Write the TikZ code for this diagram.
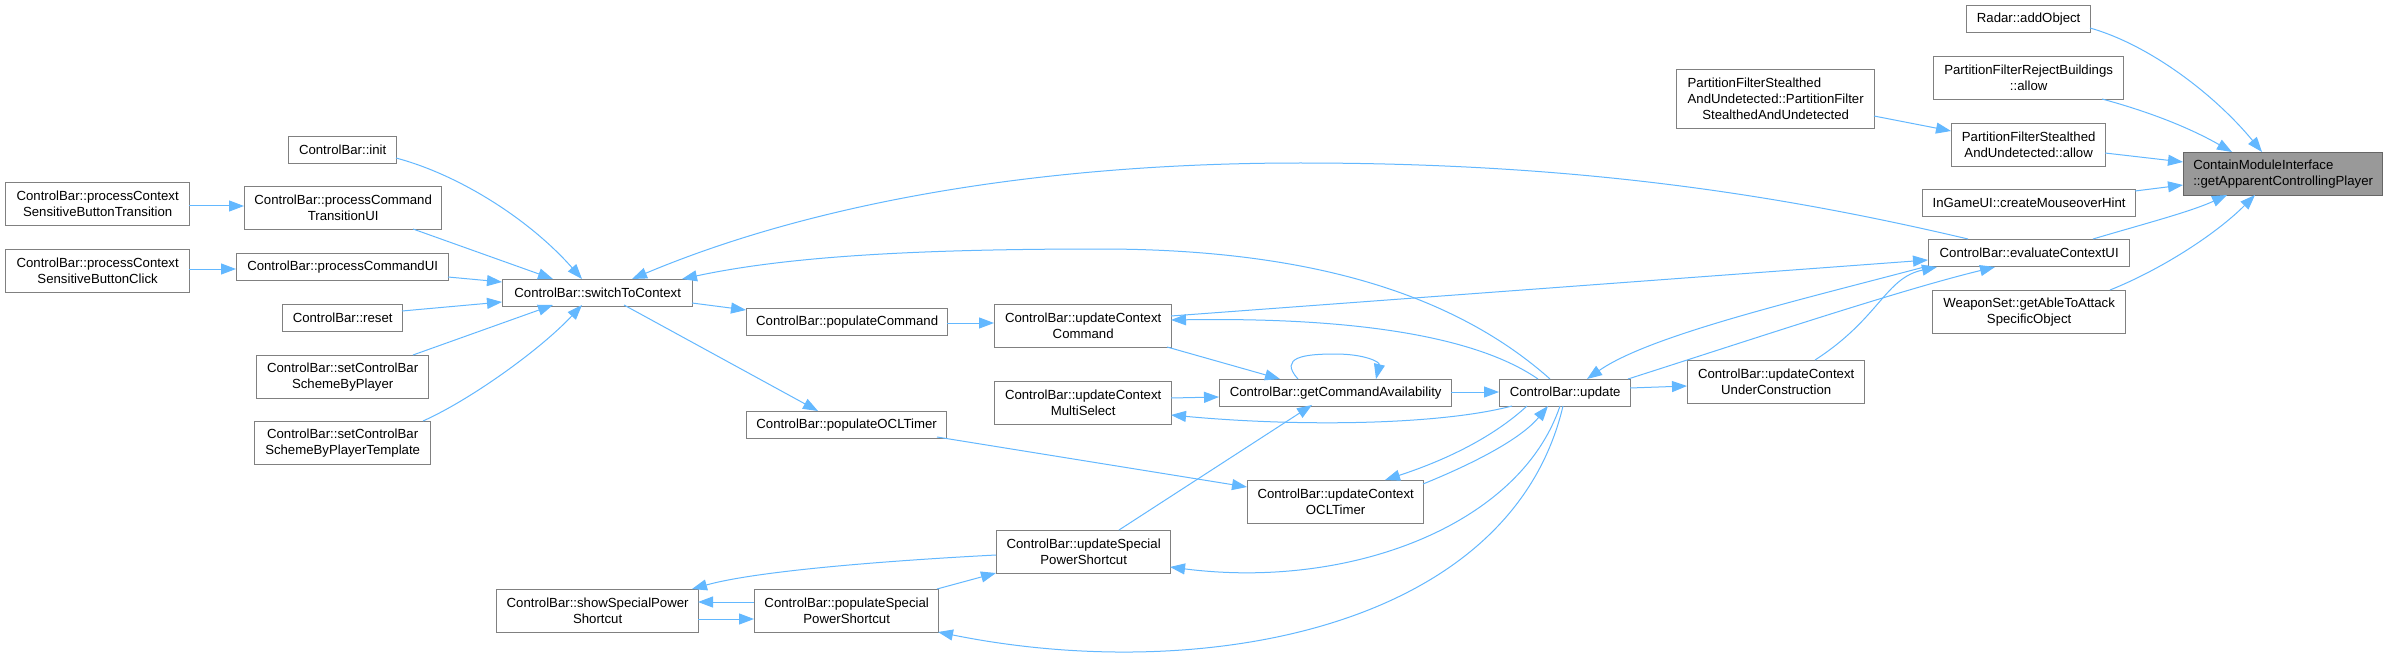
\documentclass[tikz,border=0pt]{standalone}
\usepackage{fontspec}
\setmainfont{Liberation Sans}
\usetikzlibrary{arrows.meta,calc}
\definecolor{edgecol}{RGB}{99,184,255}
\definecolor{nodeborder}{RGB}{128,128,128}
\definecolor{rootfill}{RGB}{153,153,153}
\definecolor{rootborder}{RGB}{102,102,102}
\tikzset{
  box/.style={draw=nodeborder, line width=1.3pt, fill=white, inner sep=0pt, align=center,
    anchor=north west, font=\fontsize{13.2}{16}\selectfont, text=black},
  rootbox/.style={box, fill=rootfill, draw=rootborder},
  edge/.style={draw=edgecol, line width=1pt, -{Triangle[length=15pt,width=11pt]}, fill=none},
}
\begin{document}
\begin{tikzpicture}[x=1pt,y=-1pt]
\fill[white] (0,0) rectangle (2387,655);
\useasboundingbox (0,0) rectangle (2387,655);

% nodes
\node[rootbox, minimum width=199pt, minimum height=43pt] (cmi) at (2183,152) {\makebox[0pt][l]{ContainModuleInterface}\phantom{::getApparentControllingPlayer}\\::getApparentControllingPlayer};
\node[box, minimum width=124pt, minimum height=27pt] (radar) at (1966,5) {Radar::addObject};
\node[box, minimum width=190pt, minimum height=43pt] (pfrb) at (1933,56) {PartitionFilterRejectBuildings\\::allow};
\node[box, minimum width=198pt, minimum height=59pt] (pfsauc) at (1676,69) {\makebox[0pt][l]{PartitionFilterStealthed}\phantom{AndUndetected::PartitionFilter}\\AndUndetected::PartitionFilter\\StealthedAndUndetected};
\node[box, minimum width=154pt, minimum height=43pt] (pfsaua) at (1951,123) {PartitionFilterStealthed\\AndUndetected::allow};
\node[box, minimum width=213pt, minimum height=27pt] (igui) at (1922,189) {InGameUI::createMouseoverHint};
\node[box, minimum width=201pt, minimum height=27pt] (ecui) at (1928,239) {ControlBar::evaluateContextUI};
\node[box, minimum width=193pt, minimum height=43pt] (wset) at (1932,290) {WeaponSet::getAbleToAttack\\SpecificObject};
\node[box, minimum width=177pt, minimum height=43pt] (ucuc) at (1687,360) {ControlBar::updateContext\\UnderConstruction};
\node[box, minimum width=131pt, minimum height=27pt] (upd) at (1499,379) {ControlBar::update};
\node[box, minimum width=232pt, minimum height=27pt] (gca) at (1219,379) {ControlBar::getCommandAvailability};
\node[box, minimum width=177pt, minimum height=43pt] (ucc) at (994,304) {ControlBar::updateContext\\Command};
\node[box, minimum width=177pt, minimum height=43pt] (ucms) at (994,381) {ControlBar::updateContext\\MultiSelect};
\node[box, minimum width=176pt, minimum height=43pt] (ucot) at (1247,480) {ControlBar::updateContext\\OCLTimer};
\node[box, minimum width=174pt, minimum height=43pt] (uspsc) at (996,530) {ControlBar::updateSpecial\\PowerShortcut};
\node[box, minimum width=184pt, minimum height=43pt] (pspsc) at (754,589) {ControlBar::populateSpecial\\PowerShortcut};
\node[box, minimum width=202pt, minimum height=43pt] (sspsc) at (496,589) {ControlBar::showSpecialPower\\Shortcut};
\node[box, minimum width=201pt, minimum height=27pt] (pcmd) at (746,308) {ControlBar::populateCommand};
\node[box, minimum width=200pt, minimum height=27pt] (pocl) at (746,411) {ControlBar::populateOCLTimer};
\node[box, minimum width=190pt, minimum height=27pt] (stc) at (502,279) {ControlBar::switchToContext};
\node[box, minimum width=108pt, minimum height=27pt] (init) at (288,136) {ControlBar::init};
\node[box, minimum width=197pt, minimum height=43pt] (pctui) at (244,186) {ControlBar::processCommand\\TransitionUI};
\node[box, minimum width=212pt, minimum height=27pt] (pcui) at (236,253) {ControlBar::processCommandUI};
\node[box, minimum width=120pt, minimum height=27pt] (reset) at (282,304) {ControlBar::reset};
\node[box, minimum width=172pt, minimum height=43pt] (scbp) at (256,355) {ControlBar::setControlBar\\SchemeByPlayer};
\node[box, minimum width=176pt, minimum height=43pt] (scbpt) at (254,421) {ControlBar::setControlBar\\SchemeByPlayerTemplate};
\node[box, minimum width=184pt, minimum height=43pt] (pcsbt) at (5,182) {ControlBar::processContext\\SensitiveButtonTransition};
\node[box, minimum width=184pt, minimum height=43pt] (pcsbc) at (5,249) {ControlBar::processContext\\SensitiveButtonClick};

% edges into ContainModuleInterface
\draw[edge] ($(radar.north west)+(124,23)$) .. controls (2150,45) and (2215,95) .. ($(cmi.north west)+(79,0)$);
\draw[edge] ($(pfrb.north west)+(169,43)$) .. controls (2150,112) and (2190,128) .. ($(cmi.north west)+(49,0)$);
\draw[edge] ($(pfsaua.north west)+(154,30)$) -- ($(cmi.north west)+(0,10)$);
\draw[edge] ($(igui.north west)+(213,2)$) -- ($(cmi.north west)+(0,33)$);
\draw[edge] ($(ecui.north west)+(165,0)$) .. controls (2140,225) and (2190,212) .. ($(cmi.north west)+(44,43)$);
\draw[edge] ($(wset.north west)+(178,0)$) .. controls (2160,270) and (2215,235) .. ($(cmi.north west)+(72,43)$);
\draw[edge] ($(pfsauc.north west)+(198,47)$) -- ($(pfsaua.north west)+(0,8)$);

% evaluateContextUI / update to switchToContext
\draw[edge] ($(ecui.north west)+(40,0)$) .. controls (1760,190) and (1560,163) .. (1300,163) .. controls (1050,163) and (820,200) .. ($(stc.north west)+(130,0)$);
\draw[edge] ($(upd.north west)+(51,0)$) .. controls (1450,290) and (1300,249) .. (1100,249) .. controls (900,249) and (780,258) .. ($(stc.north west)+(180,0)$);

% switchToContext outgoing
\draw[edge] ($(stc.north west)+(190,24)$) -- ($(pcmd.north west)+(0,2)$);
\draw[edge] ($(stc.north west)+(122,26)$) -- ($(pocl.north west)+(72,0)$);
\draw[edge] ($(pcmd.north west)+(201,15)$) -- ($(ucc.north west)+(0,19)$);
\draw[edge] ($(pocl.north west)+(191,26)$) -- ($(ucot.north west)+(0,7)$);

% updateContextCommand
\draw[edge] ($(ucc.north west)+(177,12)$) -- ($(ecui.north west)+(0,21)$);
\draw[edge] ($(upd.north west)+(39,0)$) .. controls (1460,325) and (1300,318) .. ($(ucc.north west)+(177,16)$);
\draw[edge] ($(ucc.north west)+(173,43)$) -- ($(gca.north west)+(61,0)$);

% getCommandAvailability
\draw[edge] ($(gca.north west)+(79,0)$) .. controls (1278,357) and (1305,354) .. (1335,354) .. controls (1365,354) and (1380,362) .. ($(gca.north west)+(157,0)$);
\draw[edge] ($(ucms.north west)+(177,17)$) -- ($(gca.north west)+(0,18)$);
\draw[edge] ($(gca.north west)+(232,13)$) -- ($(upd.north west)+(0,13)$);

% update outgoing (downwards/left)
\draw[edge] ($(upd.north west)+(13,27)$) .. controls (1440,425) and (1300,427) .. ($(ucms.north west)+(177,34)$);
\draw[edge] ($(upd.north west)+(28,27)$) .. controls (1490,440) and (1440,462) .. ($(ucot.north west)+(138,0)$);
\draw[edge] ($(ucot.north west)+(176,4)$) .. controls (1470,465) and (1520,440) .. ($(upd.north west)+(49,27)$);
\draw[edge] ($(upd.north west)+(61,27)$) .. controls (1520,525) and (1350,590) .. ($(uspsc.north west)+(174,37)$);
\draw[edge] ($(upd.north west)+(64,27)$) .. controls (1510,630) and (1200,685) .. ($(pspsc.north west)+(184,43)$);

% special power shortcut
\draw[edge] ($(uspsc.north west)+(123,0)$) -- ($(gca.north west)+(93,26)$);
\draw[edge] ($(uspsc.north west)+(0,25)$) .. controls (900,560) and (760,570) .. ($(sspsc.north west)+(196,0)$);
\draw[edge] ($(pspsc.north west)+(183,0)$) -- ($(uspsc.north west)+(0,43)$);
\draw[edge] ($(pspsc.north west)+(0,13)$) -- ($(sspsc.north west)+(202,13)$);
\draw[edge] ($(sspsc.north west)+(202,30)$) -- ($(pspsc.north west)+(0,30)$);

% update <-> evaluateContextUI, underconstruction
\draw[edge] ($(ecui.north west)+(0,27)$) .. controls (1800,300) and (1650,335) .. ($(upd.north west)+(88,0)$);
\draw[edge] ($(upd.north west)+(129,0)$) .. controls (1750,340) and (1900,290) .. ($(ecui.north west)+(67,28)$);
\draw[edge] ($(upd.north west)+(131,9)$) -- ($(ucuc.north west)+(0,26)$);
\draw[edge] ($(ucuc.north west)+(128,0)$) .. controls (1880,318) and (1885,278) .. ($(ecui.north west)+(9,28)$);

% left side
\draw[edge] ($(pcsbt.north west)+(184,24)$) -- ($(pctui.north west)+(0,20)$);
\draw[edge] ($(pcsbc.north west)+(184,20)$) -- ($(pcui.north west)+(0,16)$);
\draw[edge] ($(init.north west)+(108,22)$) .. controls (460,175) and (530,220) .. ($(stc.north west)+(80,0)$);
\draw[edge] ($(pctui.north west)+(169,43)$) -- ($(stc.north west)+(51,0)$);
\draw[edge] ($(pcui.north west)+(212,24)$) -- ($(stc.north west)+(0,3)$);
\draw[edge] ($(reset.north west)+(120,7)$) -- ($(stc.north west)+(0,23)$);
\draw[edge] ($(scbp.north west)+(157,0)$) -- ($(stc.north west)+(51,26)$);
\draw[edge] ($(scbpt.north west)+(169,0)$) .. controls (470,400) and (540,350) .. ($(stc.north west)+(80,26)$);
\end{tikzpicture}
\end{document}
